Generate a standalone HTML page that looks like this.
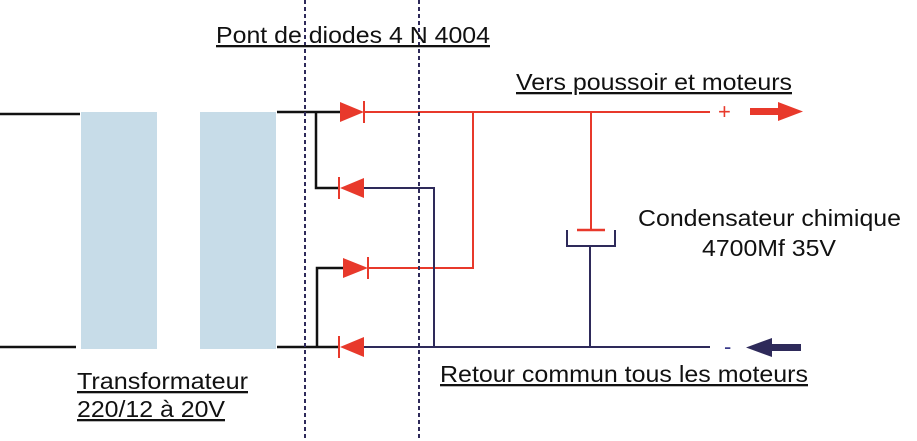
<!DOCTYPE html>
<html><head><style>
html,body{margin:0;padding:0;background:#fff;}
svg{display:block}
text{font-family:"Liberation Sans",sans-serif;font-size:23px;fill:#111;}
</style></head><body>
<svg width="917" height="441" viewBox="0 0 917 441">
<rect x="81" y="112" width="76" height="237" fill="#c7dce8"/>
<rect x="200" y="112" width="76" height="237" fill="#c7dce8"/>
<line x1="0" y1="114" x2="80" y2="114" stroke="#111" stroke-width="2.5"/>
<line x1="0" y1="347" x2="76" y2="347" stroke="#111" stroke-width="2.5"/>
<g stroke="#111" stroke-width="2.5" fill="none">
<polyline points="277,112 342,112"/>
<polyline points="316,112 316,188 340,188"/>
<polyline points="343,268 317,268 317,347"/>
<polyline points="277,347 340,347"/>
</g>
<g stroke="#e8392b" stroke-width="2" fill="none">
<polyline points="364,112 710,112"/>
<polyline points="368,268 473,268 473,112"/>
<polyline points="591,112 591,230"/>
<line x1="577" y1="230" x2="605" y2="230" stroke-width="2.5"/>
</g>
<g stroke="#2e2a5a" stroke-width="2" fill="none">
<polyline points="363,188 434,188 434,347"/>
<polyline points="363,347 710,347"/>
<polyline points="567,230 567,246 615,246 615,230"/>
<polyline points="590,246 590,347"/>
</g>
<g fill="#e8392b" stroke="#e8392b" stroke-width="2">
<polygon points="340,102 340,122 364,112" stroke="none"/>
<line x1="364" y1="101" x2="364" y2="123"/>
<polygon points="364,178 364,198 340,188" stroke="none"/>
<line x1="339" y1="177" x2="339" y2="199"/>
<polygon points="343,258 343,278 368,268" stroke="none"/>
<line x1="368" y1="257" x2="368" y2="279"/>
<polygon points="364,337 364,357 340,347" stroke="none"/>
<line x1="339" y1="336" x2="339" y2="358"/>
</g>
<g stroke="#2e2a5a" stroke-width="2" stroke-dasharray="4,3">
<line x1="305" y1="0" x2="305" y2="441"/>
<line x1="419" y1="0" x2="419" y2="441"/>
</g>
<text x="718" y="119" style="fill:#e8392b;font-size:22px">+</text>
<rect x="750" y="108" width="30" height="7" fill="#e8392b"/>
<polygon points="778,102 803,111.5 778,121" fill="#e8392b"/>
<text x="724" y="354" style="fill:#3a3a8a;font-size:22px">-</text>
<rect x="770" y="344" width="31" height="7" fill="#2e2a5a"/>
<polygon points="772,338 746,347.5 772,357" fill="#2e2a5a"/>
<text x="216" y="43" textLength="274" lengthAdjust="spacingAndGlyphs" text-decoration="underline">Pont de diodes 4 N 4004</text>
<text x="516" y="90" textLength="276" lengthAdjust="spacingAndGlyphs" text-decoration="underline">Vers poussoir et moteurs</text>
<text x="638" y="226" textLength="263" lengthAdjust="spacingAndGlyphs">Condensateur chimique</text>
<text x="702" y="256" textLength="134" lengthAdjust="spacingAndGlyphs">4700Mf 35V</text>
<text x="440" y="382" textLength="368" lengthAdjust="spacingAndGlyphs" text-decoration="underline">Retour commun tous les moteurs</text>
<text x="77" y="389" textLength="171" lengthAdjust="spacingAndGlyphs" text-decoration="underline">Transformateur</text>
<text x="77" y="417" textLength="148" lengthAdjust="spacingAndGlyphs" text-decoration="underline">220/12 à 20V</text>
</svg>
</body></html>
